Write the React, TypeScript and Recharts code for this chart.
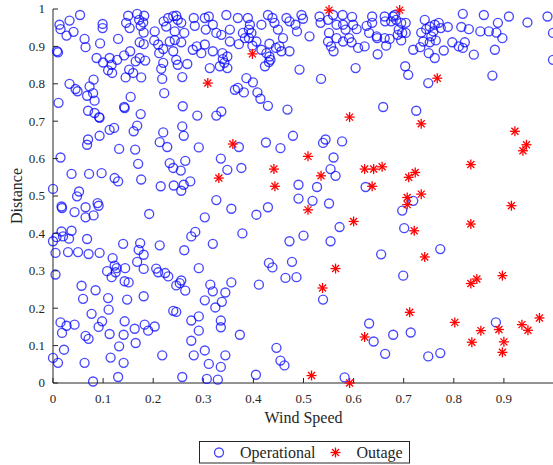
import { ScatterChart, Scatter, XAxis, YAxis, Legend } from "recharts"

// [wind speed, distance]
const operational: [number, number][] = [
  [0.013, 0.958], [0.015, 0.946], [0.033, 0.969], [0.027, 0.929], [0.041, 0.939], [0.054, 0.984],
  [0.008, 0.887], [0.010, 0.884], [0.063, 0.920], [0.065, 0.898], [0.099, 0.960], [0.099, 0.949],
  [0.094, 0.908], [0.130, 0.920], [0.087, 0.869], [0.100, 0.857], [0.113, 0.869], [0.117, 0.851],
  [0.110, 0.836], [0.118, 0.829], [0.128, 0.864], [0.142, 0.876], [0.154, 0.887], [0.150, 0.982],
  [0.146, 0.963], [0.153, 0.949], [0.168, 0.987], [0.172, 0.971], [0.175, 0.955], [0.182, 0.982],
  [0.180, 0.964], [0.181, 0.937], [0.173, 0.911], [0.181, 0.906], [0.173, 0.869], [0.184, 0.862],
  [0.165, 0.860], [0.152, 0.838], [0.160, 0.829], [0.145, 0.817], [0.176, 0.817], [0.155, 0.765],
  [0.203, 0.940], [0.202, 0.916], [0.210, 0.905], [0.212, 0.882], [0.220, 0.893], [0.216, 0.840],
  [0.220, 0.856], [0.218, 0.813], [0.222, 0.775], [0.221, 0.967], [0.226, 0.953], [0.230, 0.976],
  [0.240, 0.981], [0.246, 0.982], [0.249, 0.971], [0.256, 0.963], [0.243, 0.940], [0.233, 0.913],
  [0.243, 0.917], [0.256, 0.911], [0.262, 0.936], [0.240, 0.887], [0.246, 0.864], [0.249, 0.851],
  [0.268, 0.853], [0.258, 0.818], [0.281, 0.976], [0.283, 0.955], [0.279, 0.891], [0.287, 0.900],
  [0.296, 0.882], [0.033, 0.800], [0.045, 0.786], [0.049, 0.780], [0.068, 0.768], [0.073, 0.793],
  [0.081, 0.811], [0.080, 0.775], [0.083, 0.755], [0.070, 0.728], [0.083, 0.722], [0.092, 0.711],
  [0.093, 0.709], [0.011, 0.749], [0.142, 0.738], [0.143, 0.735], [0.175, 0.719], [0.259, 0.740],
  [0.288, 0.715], [0.113, 0.677], [0.122, 0.682], [0.161, 0.673], [0.168, 0.688], [0.220, 0.670],
  [0.258, 0.686],
  [0.070, 0.651], [0.068, 0.637], [0.093, 0.661], [0.132, 0.626], [0.164, 0.624], [0.213, 0.644],
  [0.228, 0.631], [0.261, 0.661], [0.291, 0.630], [0.015, 0.603], [0.037, 0.559], [0.072, 0.559],
  [0.097, 0.561], [0.170, 0.586], [0.233, 0.588], [0.240, 0.575], [0.255, 0.568], [0.264, 0.594],
  [0.123, 0.548], [0.130, 0.539], [0.176, 0.544], [0.215, 0.526], [0.241, 0.528], [0.256, 0.514],
  [0.261, 0.530], [0.274, 0.539], [0.000, 0.519], [0.052, 0.512], [0.048, 0.499], [0.017, 0.472],
  [0.018, 0.468], [0.043, 0.457], [0.065, 0.470], [0.065, 0.443], [0.081, 0.448], [0.089, 0.481],
  [0.091, 0.474], [0.192, 0.452], [0.007, 0.390], [0.000, 0.379], [0.017, 0.405], [0.020, 0.392],
  [0.032, 0.386], [0.037, 0.407], [0.068, 0.385], [0.140, 0.372], [0.174, 0.374], [0.171, 0.356],
  [0.181, 0.343], [0.213, 0.368], [0.262, 0.355], [0.276, 0.392], [0.284, 0.404], [0.005, 0.348],
  [0.030, 0.350], [0.050, 0.350], [0.071, 0.345], [0.093, 0.348], [0.119, 0.334],
  [0.123, 0.314], [0.127, 0.307], [0.108, 0.299], [0.117, 0.283], [0.125, 0.296], [0.144, 0.307],
  [0.168, 0.324], [0.181, 0.305], [0.005, 0.290], [0.057, 0.260], [0.060, 0.225], [0.085, 0.248],
  [0.110, 0.227], [0.143, 0.272], [0.151, 0.269], [0.148, 0.223], [0.181, 0.232], [0.206, 0.306],
  [0.210, 0.296], [0.224, 0.294], [0.230, 0.285], [0.256, 0.274], [0.253, 0.267], [0.246, 0.261],
  [0.264, 0.247], [0.291, 0.307], [0.077, 0.185], [0.111, 0.196], [0.098, 0.165], [0.091, 0.150],
  [0.015, 0.162], [0.027, 0.153], [0.043, 0.156], [0.018, 0.134], [0.065, 0.126], [0.071, 0.118],
  [0.113, 0.131], [0.143, 0.165], [0.141, 0.129], [0.163, 0.145], [0.183, 0.156], [0.190, 0.140],
  [0.203, 0.151], [0.240, 0.193], [0.246, 0.190], [0.276, 0.167], [0.291, 0.178], [0.291, 0.140],
  [0.022, 0.089], [0.132, 0.098], [0.165, 0.107], [0.276, 0.113], [0.000, 0.067], [0.010, 0.054],
  [0.063, 0.054], [0.115, 0.068], [0.141, 0.054], [0.218, 0.074], [0.281, 0.074], [0.080, 0.004],
  [0.130, 0.016], [0.258, 0.016],
  [0.303, 0.976], [0.311, 0.980], [0.305, 0.945], [0.319, 0.958], [0.326, 0.936], [0.336, 0.931],
  [0.346, 0.984], [0.353, 0.945], [0.369, 0.976], [0.379, 0.936], [0.389, 0.976], [0.393, 0.958],
  [0.391, 0.945], [0.396, 0.936], [0.416, 0.958], [0.429, 0.984], [0.438, 0.976], [0.442, 0.963],
  [0.449, 0.945], [0.466, 0.976], [0.472, 0.967], [0.484, 0.958], [0.487, 0.940], [0.496, 0.984],
  [0.499, 0.974], [0.512, 0.927], [0.532, 0.980], [0.534, 0.963], [0.549, 0.971], [0.551, 0.936],
  [0.559, 0.984], [0.566, 0.958], [0.578, 0.984], [0.579, 0.958], [0.584, 0.945], [0.597, 0.979],
  [0.599, 0.958], [0.606, 0.946], [0.626, 0.955], [0.637, 0.980], [0.637, 0.963], [0.631, 0.936],
  [0.303, 0.905], [0.319, 0.887], [0.338, 0.882], [0.353, 0.913], [0.371, 0.906], [0.383, 0.922],
  [0.391, 0.922], [0.406, 0.913], [0.398, 0.902], [0.416, 0.891], [0.426, 0.882], [0.432, 0.907],
  [0.445, 0.896], [0.452, 0.900], [0.456, 0.887], [0.472, 0.887], [0.459, 0.922], [0.549, 0.913],
  [0.555, 0.900], [0.560, 0.887], [0.566, 0.922], [0.579, 0.913], [0.591, 0.922], [0.596, 0.911],
  [0.609, 0.896], [0.622, 0.900], [0.646, 0.927], [0.648, 0.879], [0.348, 0.873], [0.339, 0.866],
  [0.342, 0.856], [0.348, 0.842], [0.313, 0.842], [0.333, 0.847], [0.432, 0.873], [0.434, 0.864],
  [0.431, 0.858], [0.423, 0.847], [0.492, 0.838], [0.535, 0.813], [0.604, 0.842], [0.386, 0.815],
  [0.399, 0.804], [0.363, 0.784], [0.369, 0.789], [0.381, 0.777], [0.408, 0.777], [0.414, 0.760],
  [0.429, 0.741], [0.468, 0.731], [0.326, 0.715], [0.336, 0.726], [0.479, 0.661],
  [0.662, 0.980], [0.663, 0.967], [0.679, 0.980], [0.682, 0.984], [0.675, 0.967], [0.685, 0.971],
  [0.695, 0.963], [0.704, 0.963], [0.690, 0.945], [0.688, 0.931], [0.697, 0.936], [0.704, 0.936],
  [0.695, 0.916], [0.672, 0.920], [0.662, 0.922], [0.647, 0.922], [0.665, 0.902], [0.719, 0.891],
  [0.733, 0.898], [0.742, 0.971], [0.739, 0.913], [0.735, 0.937], [0.745, 0.946], [0.752, 0.953],
  [0.759, 0.940], [0.762, 0.958], [0.770, 0.963], [0.774, 0.949], [0.788, 0.952], [0.752, 0.911],
  [0.755, 0.927], [0.764, 0.916], [0.750, 0.882], [0.762, 0.869], [0.780, 0.889], [0.797, 0.911],
  [0.810, 0.900], [0.818, 0.896], [0.822, 0.911], [0.818, 0.987], [0.815, 0.952], [0.830, 0.946],
  [0.840, 0.878], [0.853, 0.940], [0.860, 0.984], [0.870, 0.940], [0.888, 0.963], [0.885, 0.937],
  [0.897, 0.922], [0.882, 0.891], [0.910, 0.980], [0.947, 0.964], [0.987, 0.980], [0.998, 0.936],
  [0.998, 0.864], [0.703, 0.847], [0.709, 0.824], [0.749, 0.802], [0.877, 0.822], [0.659, 0.738],
  [0.725, 0.728],
  [0.371, 0.631], [0.425, 0.643], [0.454, 0.628], [0.539, 0.642], [0.544, 0.651], [0.577, 0.646],
  [0.335, 0.600], [0.348, 0.570], [0.376, 0.575], [0.560, 0.603], [0.554, 0.572], [0.564, 0.554],
  [0.490, 0.530], [0.527, 0.524], [0.624, 0.524], [0.326, 0.489], [0.356, 0.466], [0.303, 0.443],
  [0.406, 0.450], [0.429, 0.470], [0.490, 0.493], [0.518, 0.487], [0.551, 0.480], [0.572, 0.417],
  [0.378, 0.400], [0.319, 0.372], [0.472, 0.379], [0.500, 0.394], [0.554, 0.379], [0.655, 0.344],
  [0.719, 0.487], [0.697, 0.461], [0.701, 0.414], [0.773, 0.358],
  [0.431, 0.321], [0.438, 0.309], [0.477, 0.324], [0.464, 0.281], [0.486, 0.283], [0.411, 0.263],
  [0.314, 0.263], [0.319, 0.245], [0.344, 0.242], [0.356, 0.269], [0.303, 0.221], [0.337, 0.217],
  [0.324, 0.202], [0.539, 0.223], [0.335, 0.167], [0.335, 0.149], [0.373, 0.129], [0.631, 0.159],
  [0.640, 0.111], [0.446, 0.094], [0.454, 0.060], [0.462, 0.047], [0.303, 0.087], [0.311, 0.051],
  [0.335, 0.043], [0.344, 0.074], [0.307, 0.011], [0.329, 0.009], [0.405, 0.022], [0.582, 0.015],
  [0.699, 0.287], [0.679, 0.129], [0.714, 0.135], [0.663, 0.078], [0.749, 0.071], [0.773, 0.080],
  [0.884, 0.162],
]

const outage: [number, number][] = [
  [0.309, 0.802], [0.398, 0.880], [0.551, 0.997], [0.692, 0.997], [0.767, 0.815], [0.592, 0.711],
  [0.735, 0.693], [0.922, 0.673], [0.359, 0.639], [0.331, 0.548], [0.441, 0.572], [0.443, 0.526],
  [0.509, 0.606], [0.535, 0.554], [0.509, 0.463], [0.600, 0.432], [0.622, 0.572], [0.640, 0.572],
  [0.657, 0.578], [0.637, 0.526], [0.723, 0.563], [0.710, 0.550], [0.834, 0.584], [0.735, 0.505],
  [0.707, 0.496], [0.707, 0.477], [0.915, 0.474], [0.834, 0.425], [0.721, 0.407], [0.742, 0.337],
  [0.945, 0.637], [0.938, 0.621], [0.564, 0.306], [0.538, 0.254], [0.622, 0.123], [0.516, 0.020],
  [0.592, 0.000], [0.712, 0.189], [0.802, 0.162], [0.834, 0.266], [0.846, 0.278], [0.897, 0.287],
  [0.836, 0.109], [0.854, 0.140], [0.890, 0.143], [0.900, 0.110], [0.897, 0.082], [0.936, 0.156],
  [0.948, 0.141], [0.971, 0.174],
]

const xTicks = [0, 0.1, 0.2, 0.3, 0.4, 0.5, 0.6, 0.7, 0.8, 0.9]
const yTicks = [0, 0.1, 0.2, 0.3, 0.4, 0.5, 0.6, 0.7, 0.8, 0.9, 1]

const font = '"Liberation Serif", "Times New Roman", serif'
const ink = "#262626"

const operationalData = operational.map(([x, y]) => ({ x, y }))
const outageData = outage.map(([x, y]) => ({ x, y }))

function Ring({ cx, cy }: any) {
  return <circle cx={cx} cy={cy} r={4.5} fill="none" stroke="#0000ff" strokeOpacity={0.72} strokeWidth={1.35} />
}

function Star({ cx, cy }: any) {
  const s = 5
  const d = 3.5
  return (
    <g stroke="#ff0000" strokeWidth={1.3}>
      <line x1={cx - s} y1={cy} x2={cx + s} y2={cy} />
      <line x1={cx} y1={cy - s} x2={cx} y2={cy + s} />
      <line x1={cx - d} y1={cy - d} x2={cx + d} y2={cy + d} />
      <line x1={cx - d} y1={cy + d} x2={cx + d} y2={cy - d} />
    </g>
  )
}

function BottomTick({ x, y, payload }: any) {
  return (
    <g>
      <line x1={x} y1={y} x2={x} y2={y - 5} stroke={ink} />
      <text x={x} y={y + 20} textAnchor="middle" fontSize={13} fontFamily={font} fill={ink}>
        {payload.value}
      </text>
    </g>
  )
}

function LeftTick({ x, y, payload }: any) {
  return (
    <g>
      <line x1={x} y1={y} x2={x + 5} y2={y} stroke={ink} />
      <text x={x - 8} y={y} dy="0.34em" textAnchor="end" fontSize={13} fontFamily={font} fill={ink}>
        {payload.value}
      </text>
    </g>
  )
}

function TopTick({ x, y }: any) {
  return <line x1={x} y1={y} x2={x} y2={y + 5} stroke={ink} />
}

function RightTick({ x, y }: any) {
  return <line x1={x} y1={y} x2={x - 5} y2={y} stroke={ink} />
}

function XLabel({ viewBox }: any) {
  return (
    <text x={viewBox.x + viewBox.width / 2} y={viewBox.y + 40} textAnchor="middle" fontSize={16} fontFamily={font} fill={ink}>
      Wind Speed
    </text>
  )
}

function YLabel({ viewBox }: any) {
  const cx = 22
  const cy = viewBox.y + viewBox.height / 2
  return (
    <text x={cx} y={cy} transform={`rotate(-90 ${cx} ${cy})`} textAnchor="middle" fontSize={16} fontFamily={font} fill={ink}>
      Distance
    </text>
  )
}

function LegendBox() {
  return (
    <svg width={212} height={24}>
      <rect x={0.5} y={0.5} width={210} height={21.5} fill="#fff" stroke={ink} />
      <Ring cx={20} cy={11.5} />
      <text x={41} y={17} fontSize={16} fontFamily={font} fill={ink}>Operational</text>
      <Star cx={136.5} cy={11.5} />
      <text x={157.5} y={17} fontSize={16} fontFamily={font} fill={ink}>Outage</text>
    </svg>
  )
}

export default function App() {
  return (
    <div style={{ position: "absolute", left: 0, top: 0, width: 553, height: 465, overflow: "hidden", background: "#fff" }}>
      <ScatterChart width={560} height={465} margin={{ top: 9, right: 0, bottom: 0, left: 0 }}>
        <XAxis
          xAxisId="bottom"
          dataKey="x"
          type="number"
          domain={[0, 1]}
          ticks={xTicks}
          interval={0}
          height={82}
          stroke={ink}
          tickLine={false}
          tickSize={0}
          tickMargin={0}
          tick={<BottomTick />}
          label={<XLabel />}
        />
        <XAxis
          xAxisId="top"
          orientation="top"
          type="number"
          domain={[0, 1]}
          ticks={xTicks}
          interval={0}
          height={0}
          stroke={ink}
          tickLine={false}
          tickSize={0}
          tickMargin={0}
          tick={<TopTick />}
        />
        <YAxis
          yAxisId="left"
          dataKey="y"
          type="number"
          domain={[0, 1]}
          ticks={yTicks}
          interval={0}
          width={53}
          stroke={ink}
          tickLine={false}
          tickSize={0}
          tickMargin={0}
          tick={<LeftTick />}
          label={<YLabel />}
        />
        <YAxis
          yAxisId="right"
          orientation="right"
          type="number"
          domain={[0, 1]}
          ticks={yTicks}
          interval={0}
          width={6}
          stroke={ink}
          tickLine={false}
          tickSize={0}
          tickMargin={0}
          tick={<RightTick />}
        />
        <Scatter
          name="Operational"
          data={operationalData}
          xAxisId="bottom"
          yAxisId="left"
          shape={Ring}
          isAnimationActive={false}
        />
        <Scatter
          name="Outage"
          data={outageData}
          xAxisId="bottom"
          yAxisId="left"
          shape={Star}
          isAnimationActive={false}
        />
        <Legend
          layout="vertical"
          align="center"
          verticalAlign="middle"
          wrapperStyle={{ left: 199, top: 441, width: 212, height: 24 }}
          content={() => <LegendBox />}
        />
      </ScatterChart>
    </div>
  )
}
